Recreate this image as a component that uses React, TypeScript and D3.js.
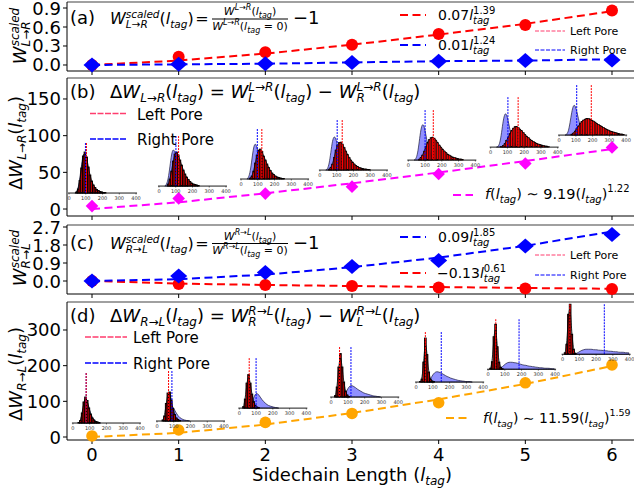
import React from 'react';
import * as d3 from 'd3';

const FONT = "'DejaVu Sans', sans-serif";

// ---------------- data ----------------
const lTag = [0, 1, 2, 3, 4, 5, 6];
const xTickLabels = ['0', '1', '2', '3', '4', '5', '6'];

const aLeftPore = [0, 0.13, 0.2, 0.32, 0.49, 0.63, 0.86];
const aLeftFit = [0, 0.07, 0.18, 0.32, 0.48, 0.65, 0.85];
const aRightPore = [0, 0.01, 0.02, 0.04, 0.06, 0.07, 0.08];
const aRightFit = [0, 0.01, 0.02, 0.04, 0.06, 0.07, 0.09];
const aTicks = [0, 0.3, 0.6, 0.9];

const bDelta = [4, 14.5, 21, 30.5, 47.7, 62, 84];
const bFit = [0, 9.2, 21.4, 35.1, 49.8, 65.4, 81.7];
const bTicks = [0, 50, 100, 150];

const cLeftPore = [0, -0.15, -0.2, -0.25, -0.32, -0.37, -0.4];
const cLeftFit = [0, -0.13, -0.2, -0.25, -0.3, -0.35, -0.39];
const cRightPore = [0, 0.25, 0.43, 0.72, 1.02, 1.75, 2.33];
const cRightFit = [0, 0.09, 0.32, 0.69, 1.17, 1.76, 2.47];
const cTicks = [0, 0.9, 1.8, 2.7];

const dDelta = [3, 19.6, 41, 66, 96, 152, 202];
const dFit = [0, 11.6, 34.9, 67.2, 105.5, 148.8, 199];
const dTicks = [0, 100, 200, 300];

const insetTicks = [0, 100, 200, 300, 400];

// panel (b) inset distributions (bin width 10, relative heights)
const bLeftStart = [40, 50, 50, 50, 60, 60, 70];
const bLeftHist = [
  [0.02, 0.08, 0.25, 0.5, 0.74, 0.82, 0.72, 0.52, 0.36, 0.24, 0.16, 0.11, 0.07, 0.05, 0.03, 0.02, 0.01, 0.01],
  [0.04, 0.14, 0.3, 0.5, 0.64, 0.68, 0.62, 0.52, 0.42, 0.32, 0.24, 0.18, 0.13, 0.09, 0.06, 0.04, 0.03, 0.02, 0.01],
  [0.02, 0.06, 0.16, 0.32, 0.48, 0.58, 0.6, 0.55, 0.46, 0.38, 0.3, 0.23, 0.17, 0.12, 0.09, 0.06, 0.04, 0.03, 0.02, 0.01, 0.01],
  [0.02, 0.05, 0.12, 0.25, 0.4, 0.5, 0.55, 0.56, 0.52, 0.45, 0.38, 0.31, 0.25, 0.2, 0.16, 0.12, 0.09, 0.07, 0.05, 0.04, 0.03, 0.02, 0.02, 0.01, 0.01],
  [0.02, 0.05, 0.1, 0.18, 0.27, 0.35, 0.41, 0.45, 0.46, 0.44, 0.4, 0.35, 0.3, 0.26, 0.22, 0.18, 0.15, 0.12, 0.1, 0.08, 0.06, 0.05, 0.04, 0.03, 0.02, 0.02, 0.01],
  [0.01, 0.03, 0.07, 0.13, 0.2, 0.27, 0.33, 0.38, 0.41, 0.41, 0.39, 0.36, 0.33, 0.29, 0.25, 0.22, 0.19, 0.16, 0.13, 0.11, 0.09, 0.07, 0.06, 0.05, 0.04, 0.03, 0.02, 0.02, 0.01],
  [0.02, 0.04, 0.08, 0.13, 0.18, 0.23, 0.27, 0.3, 0.32, 0.33, 0.33, 0.32, 0.3, 0.28, 0.26, 0.23, 0.21, 0.19, 0.17, 0.15, 0.13, 0.11, 0.1, 0.08, 0.07, 0.06, 0.05, 0.04, 0.03, 0.02, 0.02, 0.01],
];
const bRightStart = [30, 30, 30, 30, 30, 30, 30];
const bRightKde = [
  [0, 0.02, 0.1, 0.3, 0.58, 0.78, 0.8, 0.65, 0.45, 0.3, 0.19, 0.12, 0.08, 0.05, 0.03, 0.02, 0.01, 0],
  [0, 0.03, 0.14, 0.38, 0.65, 0.75, 0.68, 0.5, 0.32, 0.19, 0.11, 0.06, 0.03, 0.01, 0],
  [0, 0.03, 0.15, 0.4, 0.65, 0.72, 0.64, 0.46, 0.29, 0.17, 0.09, 0.05, 0.02, 0.01, 0],
  [0, 0.02, 0.12, 0.35, 0.6, 0.68, 0.64, 0.48, 0.31, 0.18, 0.1, 0.05, 0.02, 0.01, 0],
  [0, 0.02, 0.12, 0.36, 0.63, 0.73, 0.68, 0.5, 0.32, 0.18, 0.1, 0.05, 0.02, 0.01, 0],
  [0, 0.01, 0.08, 0.28, 0.54, 0.68, 0.66, 0.52, 0.35, 0.21, 0.12, 0.06, 0.03, 0.01, 0],
  [0, 0.01, 0.07, 0.24, 0.46, 0.6, 0.6, 0.48, 0.33, 0.2, 0.11, 0.06, 0.03, 0.01, 0],
];
const bLeftMean = [104, 117, 124, 133, 149, 164, 192];
const bRightMean = [98, 101, 97, 103, 100, 103, 105];

// panel (d) inset distributions
const dLeftStart = [30, 30, 20, 20, 20, 10, 10];
const dLeftHist = [
  [0.01, 0.05, 0.2, 0.42, 0.52, 0.45, 0.3, 0.18, 0.1, 0.06, 0.03, 0.02, 0.01],
  [0.02, 0.1, 0.35, 0.56, 0.58, 0.42, 0.25, 0.13, 0.06, 0.03, 0.01],
  [0.03, 0.18, 0.5, 0.67, 0.5, 0.28, 0.13, 0.05, 0.02, 0.01],
  [0.03, 0.2, 0.6, 0.87, 0.6, 0.3, 0.12, 0.04, 0.01],
  [0.01, 0.06, 0.4, 0.88, 0.55, 0.2, 0.06, 0.02, 0.01],
  [0.02, 0.15, 0.65, 0.9, 0.45, 0.14, 0.04, 0.01],
  [0.03, 0.2, 0.8, 1.0, 0.4, 0.1, 0.02],
];
const dRightStart = [30, 40, 50, 60, 60, 60, 70];
const dRightKde = [
  [0, 0.04, 0.18, 0.4, 0.5, 0.44, 0.32, 0.2, 0.12, 0.07, 0.04, 0.02, 0.01, 0],
  [0, 0.03, 0.12, 0.24, 0.3, 0.28, 0.22, 0.16, 0.11, 0.07, 0.05, 0.03, 0.02, 0.01, 0.01, 0],
  [0, 0.03, 0.1, 0.2, 0.28, 0.3, 0.27, 0.22, 0.17, 0.13, 0.1, 0.07, 0.05, 0.04, 0.03, 0.02, 0.01, 0.01, 0],
  [0, 0.02, 0.07, 0.14, 0.2, 0.23, 0.23, 0.21, 0.19, 0.16, 0.14, 0.12, 0.1, 0.08, 0.07, 0.06, 0.05, 0.04, 0.03, 0.02, 0.02, 0.01, 0.01, 0],
  [0, 0.02, 0.06, 0.12, 0.17, 0.2, 0.21, 0.2, 0.19, 0.17, 0.15, 0.13, 0.11, 0.1, 0.08, 0.07, 0.06, 0.05, 0.04, 0.03, 0.03, 0.02, 0.02, 0.01, 0.01, 0.01, 0.01, 0],
  [0, 0.02, 0.05, 0.08, 0.11, 0.13, 0.14, 0.14, 0.14, 0.13, 0.13, 0.12, 0.11, 0.1, 0.09, 0.08, 0.08, 0.07, 0.06, 0.06, 0.05, 0.05, 0.04, 0.04, 0.03, 0.03, 0.03, 0.02, 0.02, 0.02, 0.02, 0.01, 0.01, 0.01, 0.01],
  [0, 0.02, 0.04, 0.06, 0.08, 0.09, 0.1, 0.1, 0.1, 0.1, 0.1, 0.09, 0.09, 0.09, 0.08, 0.08, 0.08, 0.07, 0.07, 0.07, 0.06, 0.06, 0.06, 0.05, 0.05, 0.05, 0.04, 0.04, 0.04, 0.04, 0.03, 0.03, 0.03, 0.03],
];
const dLeftMean = [79, 69, 59, 50, 55, 46, 43];
const dRightMean = [79, 89, 100, 118, 150, 185, 249];

// ---------------- layout ----------------
const X_LEFT = 67, X_RIGHT = 637;
const PANELS = {
  a: { top: 2, bottom: 71, dom: [-0.095, 0.995] },
  b: { top: 78, bottom: 216, dom: [-9.5, 178.6] },
  c: { top: 225, bottom: 294, dom: [-0.65, 2.8] },
  d: { top: 302, bottom: 440, dom: [-8.4, 378.5] },
};
// inset anchors (main-axes data coords: left edge, baseline)
const bInsetX = [-0.265, 0.773, 1.72, 2.63, 3.65, 4.6, 5.39];
const bInsetY = [21.8, 31.3, 40.9, 53.1, 66.7, 84.4, 100.8];
const dInsetX = [-0.22, 0.75, 1.7, 2.76, 3.74, 4.57, 5.43];
const dInsetY = [39.2, 44.8, 81, 112, 154, 190, 232];
const INSET_W = 67, INSET_H = 50;
// bar edge widths (narrow distributions look darker in the reference)
const bEdge = [0.95, 0.85, 0.75, 0.6, 0.5, 0.5, 0.5];
const dEdge = [0.95, 0.95, 0.95, 0.95, 0.95, 0.95, 0.95];

const RED = '#ff0000', BLUE = '#0000ff', MAG = '#ff00ff', ORANGE = '#ffa500', PINK = '#ff3d6e';

// ---------------- rich text ----------------
type Seg = { t: string; s?: number; sh?: number; i?: boolean; dx?: number };
const N = (t: string, s?: number, sh?: number, dx?: number): Seg => ({ t, s, sh, dx });
const I = (t: string, s?: number, sh?: number, dx?: number): Seg => ({ t, s, sh, dx, i: true });

function Rich({ x, y, size, segs, anchor = 'start', fill = '#000' }: { x: number; y: number; size: number; segs: Seg[]; anchor?: string; fill?: string }) {
  let prev = 0;
  return (
    <text x={x} y={y} fontSize={size} fontFamily={FONT} textAnchor={anchor} fill={fill} xmlSpace="preserve" style={{ whiteSpace: 'pre' }}>
      {segs.map((g, k) => {
        const sh = g.sh ?? 0;
        const dy = prev - sh;
        prev = sh;
        return (
          <tspan key={k} dy={dy} dx={g.dx ?? 0} fontSize={g.s ?? size} fontStyle={g.i ? 'italic' : 'normal'}>
            {g.t}
          </tspan>
        );
      })}
    </text>
  );
}

function Inset({ px, py, left, leftStart, right, rightStart, leftMean, rightMean, edge }: any) {
  const ix = d3.scaleLinear().domain([0, 400]).range([0, INSET_W]);
  const iy = d3.scaleLinear().domain([0, 1]).range([0, -INSET_H]);
  const kdePts: [number, number][] = right
    .map((h: number, k: number) => [rightStart + k * 10 + 5, h] as [number, number])
    .filter((p: [number, number]) => p[0] <= 400);
  const area = d3.area<[number, number]>().x(p => ix(p[0])).y0(0).y1(p => iy(p[1])).curve(d3.curveBasis);
  const line = d3.line<[number, number]>().x(p => ix(p[0])).y(p => iy(p[1])).curve(d3.curveBasis);
  const histPts: [number, number][] = left.map((h: number, k: number) => [leftStart + k * 10 + 5, h] as [number, number]);
  return (
    <g transform={`translate(${px},${py})`}>
      <path d={area(kdePts) || ''} fill="#6c6cff" fillOpacity={0.75} stroke="#1a1a3a" strokeWidth={0.7} />
      {left.map((h: number, k: number) => (
        <rect key={k} x={ix(leftStart + k * 10)} y={iy(h)} width={ix(10)} height={-iy(h)} fill={RED} stroke="#000" strokeWidth={edge} />
      ))}
      <path d={line(histPts) || ''} fill="none" stroke="#000" strokeWidth={0.8} />
      <line x1={ix(rightMean)} x2={ix(rightMean)} y1={0} y2={-INSET_H} stroke={BLUE} strokeWidth={1} strokeDasharray="2,1" />
      <line x1={ix(leftMean)} x2={ix(leftMean)} y1={0} y2={-INSET_H} stroke={RED} strokeWidth={1} strokeDasharray="2,1" />
      <line x1={-1} x2={INSET_W + 1} y1={0} y2={0} stroke="#000" strokeWidth={0.9} />
      {insetTicks.map(t => (
        <g key={t}>
          <line x1={ix(t)} x2={ix(t)} y1={0} y2={1.5} stroke="#000" strokeWidth={0.5} />
          <text x={ix(t)} y={7} fontSize={5} fontFamily={FONT} textAnchor="middle" fill="#333">{t}</text>
        </g>
      ))}
    </g>
  );
}

function Diamond({ cx, cy, hw, hh, fill }: { cx: number; cy: number; hw: number; hh: number; fill: string }) {
  return <path d={`M${cx},${cy - hh}L${cx + hw},${cy}L${cx},${cy + hh}L${cx - hw},${cy}Z`} fill={fill} />;
}

export default function App() {
  const x = d3.scaleLinear().domain([-0.2885, 6.2885]).range([X_LEFT, X_RIGHT]);
  const ya = d3.scaleLinear().domain(PANELS.a.dom).range([PANELS.a.bottom, PANELS.a.top]);
  const yb = d3.scaleLinear().domain(PANELS.b.dom).range([PANELS.b.bottom, PANELS.b.top]);
  const yc = d3.scaleLinear().domain(PANELS.c.dom).range([PANELS.c.bottom, PANELS.c.top]);
  const yd = d3.scaleLinear().domain(PANELS.d.dom).range([PANELS.d.bottom, PANELS.d.top]);

  const lineFor = (ys: d3.ScaleLinear<number, number>) =>
    d3.line<number>().x((_, i) => x(lTag[i])).y(v => ys(v));

  const frame = (p: { top: number; bottom: number }) => (
    <g>
      <line x1={X_LEFT} x2={X_RIGHT} y1={p.top} y2={p.top} stroke="#808080" strokeWidth={1.6} />
      <line x1={X_LEFT} x2={X_RIGHT} y1={p.bottom} y2={p.bottom} stroke="#000" strokeWidth={1} />
      <line x1={X_LEFT} x2={X_LEFT} y1={p.top} y2={p.bottom} stroke="#000" strokeWidth={1} />
      {lTag.map(t => (
        <line key={t} x1={x(t)} x2={x(t)} y1={p.bottom} y2={p.bottom + 4} stroke="#000" strokeWidth={1} />
      ))}
    </g>
  );

  const yAxis = (ys: d3.ScaleLinear<number, number>, ticks: number[], fmt: (v: number) => string) => (
    <g>
      {ticks.map(t => (
        <g key={t}>
          <line x1={X_LEFT - 4} x2={X_LEFT} y1={ys(t)} y2={ys(t)} stroke="#000" strokeWidth={1} />
          <text x={X_LEFT - 6} y={ys(t) + 6.5} fontSize={18} fontFamily={FONT} textAnchor="end">{fmt(t)}</text>
        </g>
      ))}
    </g>
  );

  const LT = (s: number, sh: number) => [I('l'), I('tag', s, sh)];
  const dash = '8,4.5';
  const pdash = '6,1.5';

  return (
    <svg width={634} height={489} style={{ position: 'absolute', left: 0, top: 0 }} fontFamily={FONT}>
      <rect x={0} y={0} width={634} height={489} fill="#fff" />

      {/* ---------- panel (a) ---------- */}
      {frame(PANELS.a)}
      {yAxis(ya, aTicks, v => v.toFixed(1))}
      <path d={lineFor(ya)(aLeftFit) || ''} fill="none" stroke={RED} strokeWidth={2} strokeDasharray={dash} />
      {aLeftPore.map((v, i) => <circle key={i} cx={x(lTag[i])} cy={ya(v)} r={6} fill={RED} />)}
      <path d={lineFor(ya)(aRightFit) || ''} fill="none" stroke={BLUE} strokeWidth={2} strokeDasharray={dash} />
      {aRightPore.map((v, i) => <Diamond key={i} cx={x(lTag[i])} cy={ya(v)} hw={8.5} hh={7.5} fill={BLUE} />)}
      <text x={70} y={24} fontSize={18}>(a)</text>
      <Rich x={110} y={24} size={16} segs={[I('W'), I('L→R', 10.5, -4), I('scaled', 10.5, 6.5, -22), N('('), ...LT(10.5, -4), N(')'), N('=', 16, 0, 1.5)]} />
      <Rich x={250} y={15} size={11} anchor="middle" segs={[I('W'), I('L→R', 8, 5), N('('), ...LT(8, -3), N(')')]} />
      <line x1={212} x2={288} y1={19} y2={19} stroke="#000" strokeWidth={1} />
      <Rich x={250} y={29.5} size={11} anchor="middle" segs={[I('W'), I('L→R', 8, 5), N('('), ...LT(8, -3), N(' = 0)')]} />
      <text x={293} y={24} fontSize={18}>−1</text>
      <line x1={400} x2={426} y1={15} y2={15} stroke={RED} strokeWidth={2} strokeDasharray={dash} />
      <Rich x={438} y={20} size={14} segs={[N('0.07'), I('l'), I('tag', 10, -4), N('1.39', 10, 6, -16.4)]} />
      <line x1={400} x2={426} y1={45} y2={45} stroke={BLUE} strokeWidth={2} strokeDasharray={dash} />
      <Rich x={438} y={50} size={14} segs={[N('0.01'), I('l'), I('tag', 10, -4), N('1.24', 10, 6, -16.4)]} />
      <line x1={535} x2={565} y1={31} y2={31} stroke={PINK} strokeWidth={1} strokeDasharray="4,1.5" />
      <text x={570} y={35} fontSize={11}>Left Pore</text>
      <line x1={535} x2={565} y1={50} y2={50} stroke={BLUE} strokeWidth={1} strokeDasharray="4,1.5" />
      <text x={570} y={54} fontSize={11}>Right Pore</text>
      <g transform="translate(26,36) rotate(-90)">
        <Rich x={0} y={0} size={18} anchor="middle" segs={[I('W'), I('L→R', 12, -4), I('scaled', 12, 7, -25)]} />
      </g>

      {/* ---------- panel (b) ---------- */}
      {frame(PANELS.b)}
      {yAxis(yb, bTicks, v => String(v))}
      <path d={lineFor(yb)(bFit) || ''} fill="none" stroke={MAG} strokeWidth={2} strokeDasharray={dash} />
      {bDelta.map((v, i) => <Diamond key={i} cx={x(lTag[i])} cy={yb(v)} hw={6.3} hh={6.3} fill={MAG} />)}
      {bLeftHist.map((h, i) => (
        <Inset key={i} px={x(bInsetX[i])} py={yb(bInsetY[i])} left={h} leftStart={bLeftStart[i]} edge={bEdge[i]}
          right={bRightKde[i]} rightStart={bRightStart[i]} leftMean={bLeftMean[i]} rightMean={bRightMean[i]} />
      ))}
      <text x={70} y={98} fontSize={18}>(b)</text>
      <Rich x={110} y={98} size={18} segs={[
        N('Δ'), I('W'), I('L→R', 12, -4), N('('), ...LT(12, -4), N(')'), N(' = '),
        I('W'), I('L', 12, -4), I('L→R', 12, 7, -6.7), N('('), ...LT(12, -4), N(') − '),
        I('W'), I('R', 12, -4), I('L→R', 12, 7, -8.3), N('('), ...LT(12, -4), N(')'),
      ]} />
      <line x1={90} x2={127} y1={113.5} y2={113.5} stroke={PINK} strokeWidth={1.5} strokeDasharray={pdash} />
      <text x={137} y={119.5} fontSize={15}>Left Pore</text>
      <line x1={90} x2={127} y1={139} y2={139} stroke={BLUE} strokeWidth={1.5} strokeDasharray={pdash} />
      <text x={137} y={144.5} fontSize={15}>Right Pore</text>
      <line x1={453} x2={473} y1={195} y2={195} stroke={MAG} strokeWidth={2} strokeDasharray={dash} />
      <Rich x={485} y={199} size={14.5} segs={[I('f'), N('('), ...LT(10, -4), N(') ∼ 9.19('), ...LT(10, -4), N(')'), N('1.22', 10, 7)]} />
      <g transform="translate(22,143) rotate(-90)">
        <Rich x={0} y={0} size={18} anchor="middle" segs={[N('Δ'), I('W'), I('L→R', 12, -4), N('('), ...LT(12, -4), N(')')]} />
      </g>

      {/* ---------- panel (c) ---------- */}
      {frame(PANELS.c)}
      {yAxis(yc, cTicks, v => v.toFixed(1))}
      <path d={lineFor(yc)(cLeftFit) || ''} fill="none" stroke={RED} strokeWidth={2} strokeDasharray={dash} />
      {cLeftPore.map((v, i) => <circle key={i} cx={x(lTag[i])} cy={yc(v)} r={6} fill={RED} />)}
      <path d={lineFor(yc)(cRightFit) || ''} fill="none" stroke={BLUE} strokeWidth={2} strokeDasharray={dash} />
      {cRightPore.map((v, i) => <Diamond key={i} cx={x(lTag[i])} cy={yc(v)} hw={8.5} hh={7.5} fill={BLUE} />)}
      <text x={70} y={249} fontSize={18}>(c)</text>
      <Rich x={110} y={249} size={16} segs={[I('W'), I('R→L', 10.5, -4), I('scaled', 10.5, 6.5, -22), N('('), ...LT(10.5, -4), N(')'), N('=', 16, 0, 1.5)]} />
      <Rich x={250} y={239.5} size={11} anchor="middle" segs={[I('W'), I('R→L', 8, 5), N('('), ...LT(8, -3), N(')')]} />
      <line x1={212} x2={288} y1={243.5} y2={243.5} stroke="#000" strokeWidth={1} />
      <Rich x={250} y={254} size={11} anchor="middle" segs={[I('W'), I('R→L', 8, 5), N('('), ...LT(8, -3), N(' = 0)')]} />
      <text x={293} y={249} fontSize={18}>−1</text>
      <line x1={400} x2={426} y1={237} y2={237} stroke={BLUE} strokeWidth={2} strokeDasharray={dash} />
      <Rich x={438} y={242} size={14} segs={[N('0.09'), I('l'), I('tag', 10, -4), N('1.85', 10, 6, -16.4)]} />
      <line x1={400} x2={426} y1={273} y2={273} stroke={RED} strokeWidth={2} strokeDasharray={dash} />
      <Rich x={437} y={278} size={14} segs={[N('−0.13'), I('l'), I('tag', 10, -4), N('0.61', 10, 6, -16.4)]} />
      <line x1={535} x2={565} y1={255} y2={255} stroke={PINK} strokeWidth={1} strokeDasharray="4,1.5" />
      <text x={570} y={259} fontSize={11}>Left Pore</text>
      <line x1={535} x2={565} y1={275} y2={275} stroke={BLUE} strokeWidth={1} strokeDasharray="4,1.5" />
      <text x={570} y={279} fontSize={11}>Right Pore</text>
      <g transform="translate(26,258) rotate(-90)">
        <Rich x={0} y={0} size={18} anchor="middle" segs={[I('W'), I('R→L', 12, -4), I('scaled', 12, 7, -25)]} />
      </g>

      {/* ---------- panel (d) ---------- */}
      {frame(PANELS.d)}
      {yAxis(yd, dTicks, v => String(v))}
      <path d={lineFor(yd)(dFit) || ''} fill="none" stroke={ORANGE} strokeWidth={2} strokeDasharray={dash} />
      {dDelta.map((v, i) => <circle key={i} cx={x(lTag[i])} cy={yd(v)} r={5.8} fill={ORANGE} />)}
      {dLeftHist.map((h, i) => (
        <Inset key={i} px={x(dInsetX[i])} py={yd(dInsetY[i])} left={h} leftStart={dLeftStart[i]} edge={dEdge[i]}
          right={dRightKde[i]} rightStart={dRightStart[i]} leftMean={dLeftMean[i]} rightMean={dRightMean[i]} />
      ))}
      <text x={70} y={322} fontSize={18}>(d)</text>
      <Rich x={110} y={322} size={18} segs={[
        N('Δ'), I('W'), I('R→L', 12, -4), N('('), ...LT(12, -4), N(')'), N(' = '),
        I('W'), I('R', 12, -4), I('R→L', 12, 7, -8.3), N('('), ...LT(12, -4), N(') − '),
        I('W'), I('L', 12, -4), I('R→L', 12, 7, -6.7), N('('), ...LT(12, -4), N(')'),
      ]} />
      <line x1={85} x2={127} y1={337} y2={337} stroke={PINK} strokeWidth={1.5} strokeDasharray={pdash} />
      <text x={133} y={343} fontSize={15}>Left Pore</text>
      <line x1={85} x2={127} y1={363} y2={363} stroke={BLUE} strokeWidth={1.5} strokeDasharray={pdash} />
      <text x={133} y={368.5} fontSize={15}>Right Pore</text>
      <line x1={446} x2={468} y1={418} y2={418} stroke={ORANGE} strokeWidth={2} strokeDasharray={dash} />
      <Rich x={483} y={423} size={14} segs={[I('f'), N('('), ...LT(9.5, -4), N(') ∼ 11.59('), ...LT(9.5, -4), N(')'), N('1.59', 9.5, 7)]} />
      <g transform="translate(22,374) rotate(-90)">
        <Rich x={0} y={0} size={18} anchor="middle" segs={[N('Δ'), I('W'), I('R→L', 12, -4), N('('), ...LT(12, -4), N(')')]} />
      </g>

      {/* ---------- shared x axis ---------- */}
      {lTag.map((t, i) => (
        <text key={t} x={x(t)} y={461} fontSize={18} textAnchor="middle">{xTickLabels[i]}</text>
      ))}
      <Rich x={352} y={481} size={18} anchor="middle" segs={[N('Sidechain Length ('), I('l'), I('tag', 12, -4), N(')')]} />
    </svg>
  );
}
